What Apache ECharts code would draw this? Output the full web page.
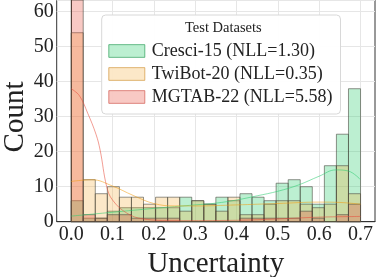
<!DOCTYPE html>
<html>
<head>
<meta charset="utf-8">
<script src="https://cdn.jsdelivr.net/npm/echarts@6/dist/echarts.min.js"></script>
<style>
html,body{margin:0;padding:0;background:#fff;}
#c{width:379px;height:277px;}
</style>
</head>
<body>
<div id="c"></div>
<script>
// ---- data ----
const seriesNames = ['Cresci-15 (NLL=1.30)', 'TwiBot-20 (NLL=0.35)', 'MGTAB-22 (NLL=5.58)'];
const binCount = 24;
const binMax = 0.7;
const cresciCounts = [6, 1, 1, 3, 4, 4, 4, 4, 4, 7, 6, 5, 7, 6, 8, 7, 6, 11, 12, 10, 5, 16, 25, 38];
const twibotCounts = [54, 12, 8, 10, 7, 7, 5, 7, 7, 3, 6, 5, 3, 7, 2, 2, 5, 6, 6, 5, 4, 5, 16, 8];
const mgtabCounts  = [200, 2, 1, 2, 2, 1, 1, 1, 1, 0, 0, 0, 0, 0, 1, 1, 1, 1, 1, 3, 1, 0, 2, 5];
// KDE curves (x, count)
const cresciKdeX = [0, 0.1, 0.2, 0.3, 0.35, 0.4, 0.45, 0.5, 0.55, 0.6, 0.64, 0.67, 0.7];
const cresciKdeY = [1.6, 2.7, 3.8, 4.8, 5.3, 6.2, 7.4, 8.7, 10.5, 13, 14.8, 14.5, 12];
const twibotKdeX = [0, 0.05, 0.1, 0.15, 0.2, 0.25, 0.3, 0.4, 0.5, 0.6, 0.65, 0.7];
const twibotKdeY = [11.5, 12, 10.2, 7.5, 5.2, 4.5, 4.5, 4.8, 5.2, 5.6, 5.5, 5];
const mgtabKdeX = [0, 0.02, 0.04, 0.06, 0.07, 0.086, 0.1, 0.134, 0.174, 0.25, 0.4, 0.5, 0.6, 0.7];
const mgtabKdeY = [38, 36, 31, 25, 20.5, 10, 6.2, 2.5, 0.8, 0.3, 0.4, 0.8, 1.3, 1.5];
const xTicks = [0, 0.1, 0.2, 0.3, 0.4, 0.5, 0.6, 0.7];
const yTicks = [0, 10, 20, 30, 40, 50, 60];

// ---- styling ----
const fills = ['rgba(46,204,113,0.32)', 'rgba(243,170,50,0.27)', 'rgba(231,76,60,0.30)'];
const strokes = ['rgba(75,75,65,0.6)', 'rgba(75,75,65,0.6)', 'rgba(75,75,65,0.6)'];
const lineColors = ['rgba(46,204,113,0.55)', 'rgba(243,156,18,0.55)', 'rgba(231,76,60,0.55)'];
const legendEdges = ['rgba(46,160,90,0.7)', 'rgba(210,150,60,0.7)', 'rgba(210,90,80,0.7)'];
const FONT = 'Liberation Serif';

const binW = binMax / binCount;
function toBins(counts) {
  return counts.map((c, i) => [i * binW, (i + 1) * binW, c]);
}
function toPairs(xs, ys) { return xs.map((x, i) => [x, ys[i]]); }

function makeRender(idx) {
  return function (params, api) {
    const x0 = api.value(0), x1 = api.value(1), v = api.value(2);
    if (!v) return null;
    const p0 = api.coord([x0, v]);
    const p1 = api.coord([x1, 0]);
    const cs = params.coordSys;
    const rect = echarts.graphic.clipRectByRect(
      { x: p0[0], y: p0[1], width: p1[0] - p0[0], height: p1[1] - p0[1] },
      { x: cs.x, y: cs.y, width: cs.width, height: cs.height }
    );
    if (!rect) return null;
    return { type: 'rect', shape: rect, style: { fill: fills[idx], stroke: strokes[idx], lineWidth: 1 } };
  };
}

const allCounts = [cresciCounts, twibotCounts, mgtabCounts];
const kdes = [toPairs(cresciKdeX, cresciKdeY), toPairs(twibotKdeX, twibotKdeY), toPairs(mgtabKdeX, mgtabKdeY)];

const series = [{
  name: 'vgrid', type: 'line', data: [], silent: true, z: 0,
  markLine: { silent: true, symbol: 'none', label: { show: false }, z: 0,
    lineStyle: { color: '#e6e6e6', width: 1, type: 'solid' },
    data: xTicks.map(t => ({ xAxis: t })) }
}];
allCounts.forEach((c, i) => {
  series.push({
    name: seriesNames[i], type: 'custom', renderItem: makeRender(i),
    itemStyle: { color: fills[i] },
    encode: { x: [0, 1], y: 2 },
    data: toBins(c), z: 2
  });
});
kdes.forEach((d, i) => {
  series.push({
    name: 'kde' + i, type: 'line', smooth: 0.4, showSymbol: false, silent: true,
    lineStyle: { color: lineColors[i], width: 1 }, itemStyle: { color: lineColors[i] },
    data: d, z: 3
  });
});

const chart = echarts.init(document.getElementById('c'), null, { renderer: 'canvas' });
chart.setOption({
  animation: false,
  backgroundColor: '#fff',
  grid: { left: 56.7, right: 4, top: 0, bottom: 55.3, outerBoundsMode: 'none', containLabel: false,
    show: true, borderColor: '#333', borderWidth: 1, backgroundColor: 'transparent' },
  xAxis: {
    type: 'value', min: -0.035, max: 0.735,
    name: 'Uncertainty', nameLocation: 'middle', nameGap: 9,
    nameTextStyle: { fontFamily: FONT, fontSize: 29, color: '#222' },
    axisLine: { show: true, lineStyle: { color: '#333', width: 1 } },
    axisTick: { show: false, customValues: xTicks },
    axisLabel: { customValues: xTicks, fontFamily: FONT, fontSize: 20, color: '#222', margin: 3,
      formatter: v => v.toFixed(1) },
    splitLine: { show: false }
  },
  yAxis: {
    type: 'value', min: 0, max: 63.35, interval: 10,
    axisLine: { show: true, lineStyle: { color: '#333', width: 1 } },
    axisTick: { show: false },
    axisLabel: { customValues: yTicks, fontFamily: FONT, fontSize: 20, color: '#222', margin: 3 },
    splitLine: { show: true, lineStyle: { color: '#e6e6e6', width: 1 } }
  },
  legend: {
    data: seriesNames.map((n, i) => ({ name: n, itemStyle: { color: fills[i], borderColor: legendEdges[i], borderWidth: 1 } })),
    orient: 'vertical', left: 101.7, top: 15, z: 10,
    icon: 'rect', itemWidth: 36, itemHeight: 12.7, itemGap: 5,
    padding: [27, 8, 8, 6.6],
    backgroundColor: 'rgba(255,255,255,0.93)', borderColor: '#d8d8d8', borderWidth: 1, borderRadius: 4,
    textStyle: { fontFamily: FONT, fontSize: 18, color: '#222', padding: [0, 0, 0, 2] },
    selectedMode: false
  },
  graphic: [{
    type: 'text', left: 185, top: 21, z: 100,
    style: { text: 'Test Datasets', font: '14.5px "Liberation Serif"', fill: '#222' }
  }, {
    type: 'text', x: 15, y: 117, rotation: Math.PI / 2, z: 100,
    style: { text: 'Count', font: '29px "Liberation Serif"', fill: '#222', align: 'center', verticalAlign: 'middle' }
  }],
  series: series
});
</script>
</body>
</html>
